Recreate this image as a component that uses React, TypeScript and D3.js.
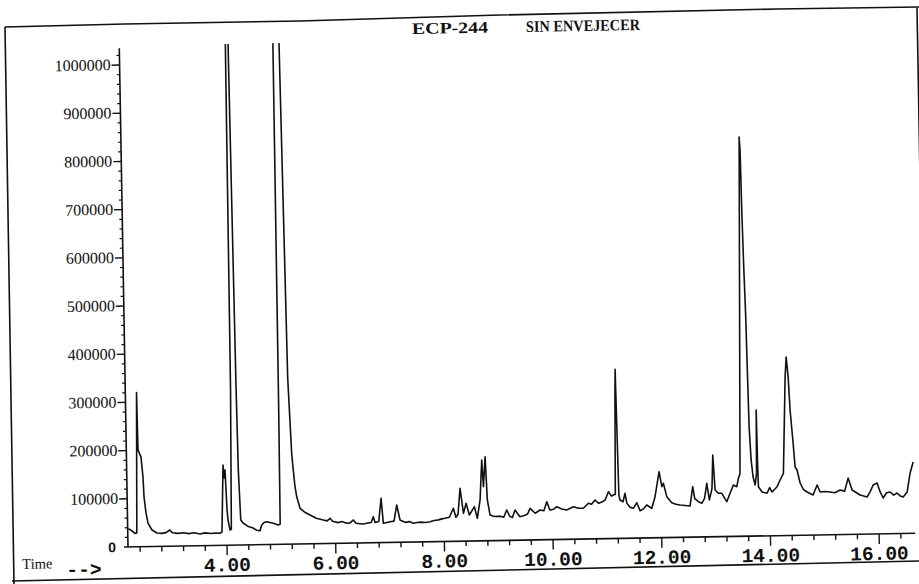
import React from "react";
import * as d3 from "d3";

const W = 919;
const H = 584;

// Retention time (min)
const times = [
  2.19, 2.26, 2.31, 2.345, 2.384, 2.393, 2.446, 2.476, 2.489, 2.52, 2.554, 2.625, 2.716, 2.8, 2.88, 2.954,
  3.0, 3.1, 3.2, 3.3, 3.4, 3.507, 3.6, 3.7, 3.8, 3.87, 3.912, 3.952, 3.97, 3.987, 4.012, 4.027, 4.06,
  4.085, 4.115, 4.13, 4.157, 4.18, 4.217, 4.232, 4.261, 4.302, 4.4, 4.484, 4.55, 4.612, 4.645, 4.69,
  4.737, 4.8, 4.859, 4.951, 4.985, 4.995, 5.005, 5.06, 5.118, 5.17, 5.219, 5.243, 5.27, 5.298, 5.355,
  5.45, 5.537, 5.65, 5.78, 5.85, 5.904, 5.95, 6.05, 6.12, 6.209, 6.27, 6.333, 6.38, 6.45, 6.515, 6.6,
  6.66, 6.701, 6.73, 6.8, 6.849, 6.883, 6.95, 7.007, 7.08, 7.135, 7.191, 7.25, 7.3, 7.36, 7.435, 7.5,
  7.58, 7.66, 7.742, 7.82, 7.9, 7.96, 8.02, 8.1, 8.176, 8.22, 8.26, 8.305, 8.36, 8.412, 8.468, 8.563,
  8.614, 8.67, 8.713, 8.736, 8.776, 8.804, 8.849, 8.93, 9.032, 9.1, 9.157, 9.21, 9.26, 9.31, 9.397,
  9.48, 9.54, 9.587, 9.68, 9.77, 9.84, 9.897, 9.95, 10.02, 10.079, 10.17, 10.261, 10.385, 10.48,
  10.568, 10.662, 10.72, 10.785, 10.85, 10.91, 10.97, 11.034, 11.09, 11.124, 11.16, 11.185, 11.196,
  11.207, 11.225, 11.245, 11.3, 11.339, 11.37, 11.43, 11.488, 11.553, 11.61, 11.67, 11.735, 11.826,
  11.89, 11.972, 12.018, 12.047, 12.106, 12.196, 12.27, 12.347, 12.44, 12.531, 12.586, 12.62, 12.686,
  12.748, 12.8, 12.846, 12.888, 12.94, 12.965, 12.997, 13.056, 13.119, 13.208, 13.271, 13.335, 13.397,
  13.429, 13.46, 13.508, 13.552, 13.565, 13.578, 13.595, 13.615, 13.63, 13.643, 13.669, 13.7, 13.735,
  13.765, 13.778, 13.787, 13.795, 13.861, 13.952, 14.0, 14.045, 14.138, 14.196, 14.259, 14.321, 14.346,
  14.377, 14.402, 14.447, 14.476, 14.511, 14.563, 14.62, 14.689, 14.798, 14.875, 14.929, 15.02, 15.113,
  15.2, 15.297, 15.38, 15.448, 15.517, 15.663, 15.791, 15.85, 15.906, 15.979, 16.033, 16.086, 16.15,
  16.216, 16.28, 16.344, 16.4, 16.454, 16.53, 16.59, 16.649,
];

// Abundance
const abundance = [
  38000, 33000, 28000, 29000, 320000, 201000, 186000, 145000, 103000, 70000, 49000, 34400, 28000, 27000, 28500, 33800,
  28000, 26500, 27500, 25500, 27000, 24400, 26500, 25000, 26000, 25100, 27700, 166700, 140000, 156200, 73200, 52400, 31600,
  33000, 324000, 1036000, 1600000, 1036000, 324000, 156000, 52000, 45600, 38000, 34900, 30000, 29000, 40800, 46000,
  47500, 45500, 43900, 40200, 42000, 300000, 1036000, 2000000, 1036000, 345000, 188000, 154000, 119000, 98000, 74000,
  65000, 59800, 53000, 48900, 47000, 52200, 46000, 43000, 45000, 41200, 42000, 47900, 41000, 40000, 39200, 41000,
  42000, 54000, 42000, 44000, 91900, 39900, 41500, 43000, 44000, 77400, 46200, 43000, 41000, 42500, 38800, 40500,
  41000, 40000, 41500, 44000, 45000, 47000, 48100, 50000, 68500, 50000, 56000, 109800, 57800, 78400, 54000, 71100,
  46900, 84800, 167700, 112200, 174400, 84500, 53300, 50000, 50500, 48000, 63000, 50000, 47500, 62800, 48700,
  51000, 54000, 65700, 55200, 61800, 60000, 78800, 61500, 63000, 68100, 63000, 60900, 67500, 64000,
  63800, 74000, 72000, 80600, 73600, 76000, 80200, 97300, 88000, 90300, 92000, 300000, 351000,
  250000, 90000, 79700, 76000, 93400, 72600, 64000, 62000, 73500, 56800, 60000, 68400, 61300,
  85300, 137000, 105800, 112800, 84900, 72200, 69000, 67200, 66000, 64700, 104700, 80000, 73300,
  69900, 80000, 111200, 76500, 100000, 169700, 97000, 90000, 89900, 72300, 89600, 106700, 103100,
  120400, 130000, 490300, 828500, 801500, 670000, 560000, 460000, 330000, 226500, 158000, 122600, 105900,
  130000, 261400, 150000, 102300, 91200, 88300, 100000, 90800, 101600, 115400, 129200, 328900, 370400,
  328800, 260300, 191700, 141800, 135500, 108400, 95000, 89500, 83100, 103700, 89000, 90000, 88700,
  87000, 92500, 90000, 117100, 92000, 81400, 77000, 88000, 101700, 105700, 86900, 74300, 85000,
  86500, 80000, 84200, 78000, 75700, 85900, 125200, 147900,
];

const yTickValues = [100000, 200000, 300000, 400000, 500000, 600000, 700000, 800000, 900000, 1000000];
const yTickLabels = ["100000", "200000", "300000", "400000", "500000", "600000", "700000", "800000", "900000", "1000000"];
const xMajorValues = [4, 6, 8, 10, 12, 14, 16];
const xTickLabels = ["4.00", "6.00", "8.00", "10.00", "12.00", "14.00", "16.00"];
const titleLeft = "ECP-244";
const titleRight = "SIN ENVEJECER";
const timeLabel = "Time";
const arrowLabel = "-->";

export default function App() {
  const x0 = 128;
  const y0 = 547;
  const pxPerMin = 54.35;
  const tStart = 2.178;
  const tEnd = 16.663;
  const x = d3.scaleLinear().domain([tStart, tEnd]).range([x0, x0 + (tEnd - tStart) * pxPerMin]);
  const y = d3.scaleLinear().domain([0, 1000000]).range([y0, y0 - 482]);

  const line = d3
    .line<number>()
    .x((_, i) => x(times[i]))
    .y((_, i) => y(abundance[i]));
  const path = line(times) || "";

  const minorX = d3.range(6, 42).map((k) => +(k * 0.4).toFixed(2));
  const minorY = d3.range(1, 52).map((k) => k * 20000).filter((v) => v % 100000 !== 0);
  const clipTop = y(1040000);

  const serif = "'Liberation Serif', 'Times New Roman', serif";
  const mono = "'Liberation Mono', 'Courier New', monospace";

  return (
    <svg
      width={W}
      height={H}
      viewBox={`0 0 ${W} ${H}`}
      style={{ position: "absolute", left: 0, top: 0, background: "#fff" }}
    >
      <rect x={0} y={0} width={W} height={H} fill="#fff" />
      {/* page frame */}
      <g fill="none" stroke="#111" strokeWidth={1.6}>
        <polyline points="5,27 125,24 300,21 500,15 777,9 919,7" />
        <line x1={5} y1={27} x2={14} y2={584} />
        <line x1={12} y1={581} x2={919} y2={561} />
        <line x1={917} y1={8} x2={927} y2={570} />
      </g>
      <g transform={`rotate(-1, ${x0}, ${y0})`}>
        <defs>
          <clipPath id="plotClip">
            <rect x={x0} y={clipTop} width={W} height={y0 - clipTop + 5} />
          </clipPath>
        </defs>
        {/* title */}
        <text x={421} y={39} fontFamily={serif} fontWeight="bold" fontSize={16} textLength={76} lengthAdjust="spacingAndGlyphs" fill="#111">
          {titleLeft}
        </text>
        <text x={535} y={39} fontFamily={serif} fontWeight="bold" fontSize={16} textLength={114} lengthAdjust="spacingAndGlyphs" fill="#111">
          {titleRight}
        </text>
        {/* y axis */}
        <line x1={x0} y1={y(0)} x2={x0} y2={y(1035000)} stroke="#111" strokeWidth={1.6} />
        {minorY.map((v) => (
          <line key={"my" + v} x1={x0 - 3} x2={x0} y1={y(v)} y2={y(v)} stroke="#111" strokeWidth={1.2} />
        ))}
        {yTickValues.map((v, i) => (
          <g key={"ty" + v}>
            <line x1={x0 - 8} x2={x0} y1={y(v)} y2={y(v)} stroke="#111" strokeWidth={1.4} />
            <text x={x0 - 9} y={y(v) + 5} textAnchor="end" fontFamily={serif} fontSize={16} fill="#111">
              {yTickLabels[i]}
            </text>
          </g>
        ))}
        <text x={x0 - 12} y={y(0) + 5} textAnchor="end" fontFamily="'Liberation Sans', Arial, sans-serif" fontWeight="bold" fontSize={14} fill="#111">
          0
        </text>
        {/* x axis */}
        <line x1={x0 - 4} y1={y0} x2={x(tEnd)} y2={y0} stroke="#111" strokeWidth={1.6} />
        {minorX.map((t) => (
          <line
            key={"mx" + t}
            x1={x(t)}
            x2={x(t)}
            y1={y0}
            y2={y0 + (Math.abs(t / 2 - Math.round(t / 2)) < 1e-6 ? 10 : 5)}
            stroke="#111"
            strokeWidth={1.4}
          />
        ))}
        {xMajorValues.map((t, i) => (
          <text key={"tx" + t} x={x(t)} y={y0 + 26} textAnchor="middle" fontFamily={mono} fontWeight="bold" fontSize={19.5} fill="#111">
            {xTickLabels[i]}
          </text>
        ))}
        <text x={22} y={567} fontFamily={serif} fontSize={14.5} fill="#111">
          {timeLabel}
        </text>
        <text x={66} y={575} fontFamily={mono} fontWeight="bold" fontSize={19.5} fill="#111">
          {arrowLabel}
        </text>
        {/* trace */}
        <g clipPath="url(#plotClip)">
          <path d={path} fill="none" stroke="#111" strokeWidth={1.6} strokeLinejoin="round" />
        </g>
      </g>
    </svg>
  );
}
